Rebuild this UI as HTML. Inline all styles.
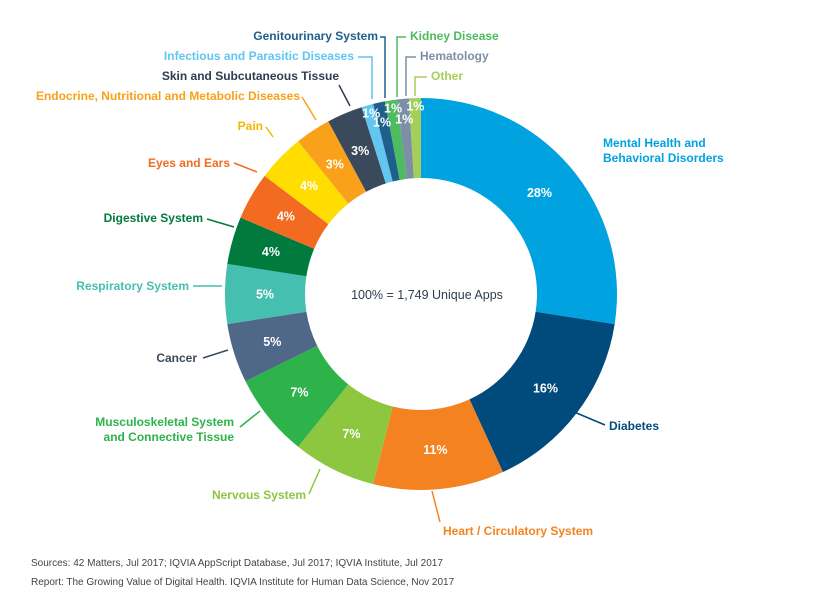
<!DOCTYPE html>
<html><head><meta charset="utf-8">
<style>
body{margin:0;background:#fff;font-family:"Liberation Sans",sans-serif;}
svg text{font-family:"Liberation Sans",sans-serif;}
</style></head>
<body>
<svg id="chart" width="820" height="607" viewBox="0 0 820 607" xmlns="http://www.w3.org/2000/svg">
<g id="slices"></g>
<g id="pcts"></g>
<g id="labels"></g>
<text x="427" y="299" text-anchor="middle" font-size="12.5" fill="#2e3d4f">100% = 1,749 Unique Apps</text>
<text x="31" y="566" font-size="10" fill="#444">Sources: 42 Matters, Jul 2017; IQVIA AppScript Database, Jul 2017; IQVIA Institute, Jul 2017</text>
<text x="31" y="585" font-size="10" fill="#444">Report: The Growing Value of Digital Health. IQVIA Institute for Human Data Science, Nov 2017</text>
</svg>
<script>
const categories=["Mental Health and Behavioral Disorders","Diabetes","Heart / Circulatory System","Nervous System","Musculoskeletal System and Connective Tissue","Cancer","Respiratory System","Digestive System","Eyes and Ears","Pain","Endocrine, Nutritional and Metabolic Diseases","Skin and Subcutaneous Tissue","Infectious and Parasitic Diseases","Genitourinary System","Kidney Disease","Hematology","Other"];
const values=[28,16,11,7,7,5,5,4,4,4,3,3,1,1,1,1,1];
const pctLabels=["28%","16%","11%","7%","7%","5%","5%","4%","4%","4%","3%","3%","1%","1%","1%","1%","1%"];
const colors=["#00a3e0","#004a7c","#f58220","#8dc63f","#2db34a","#4f6888","#45bfb0","#007a3d","#f26b21","#ffdd00","#f9a11b","#3a4a5c","#62c6f1","#1f5f8b","#4dbb5f","#7d8fa6","#a6cf5a"];
const cx=421,cy=294,R=196,r=116;
const total=values.reduce((a,b)=>a+b,0);
const NS="http://www.w3.org/2000/svg";
function pt(a,rad){return [cx+rad*Math.sin(a),cy-rad*Math.cos(a)];}
const gS=document.getElementById('slices'),gP=document.getElementById('pcts'),gL=document.getElementById('labels');
let acc=0;
values.forEach((v,i)=>{
  const a0=acc/total*2*Math.PI; acc+=v; const a1=acc/total*2*Math.PI;
  const [x0,y0]=pt(a0,R),[x1,y1]=pt(a1,R),[x2,y2]=pt(a1,r),[x3,y3]=pt(a0,r);
  const lg=(a1-a0)>Math.PI?1:0;
  const p=document.createElementNS(NS,'path');
  p.setAttribute('d',`M${x0},${y0}A${R},${R} 0 ${lg} 1 ${x1},${y1}L${x2},${y2}A${r},${r} 0 ${lg} 0 ${x3},${y3}Z`);
  p.setAttribute('fill',colors[i]);
  
  
  gS.appendChild(p);
  const am=(a0+a1)/2;
  let rr=(R+r)/2, dx=0, dy=0;
  if(i>=12){rr=R-14; dy=(i%2===0)?-6:6;}
  const [tx,ty]=pt(am,rr);
  const t=document.createElementNS(NS,'text');
  t.setAttribute('x',tx+dx);t.setAttribute('y',ty+dy+4.5);
  t.setAttribute('text-anchor','middle');t.setAttribute('font-size','12.5');t.setAttribute('font-weight','bold');t.setAttribute('fill','#fff');
  
  
  t.textContent=pctLabels[i];
  gP.appendChild(t);
});
const lab=[
 [["Mental Health and","Behavioral Disorders"],603,147,"start","#00a3e0",null],
 [["Diabetes"],609,430,"start","#004a7c","M567,409L605,425"],
 [["Heart / Circulatory System"],443,535,"start","#f58220","M432,491L440,522"],
 [["Nervous System"],306,499,"end","#8dc63f","M320,469L309,494"],
 [["Musculoskeletal System","and Connective Tissue"],234,426,"end","#2db34a","M260,411L240,427"],
 [["Cancer"],197,362,"end","#3a4a5c","M228,350L203,358"],
 [["Respiratory System"],189,290,"end","#45bfb0","M222,286L193,286"],
 [["Digestive System"],203,222,"end","#007a3d","M234,227L207,219"],
 [["Eyes and Ears"],230,167,"end","#f26b21","M257,172L234,163"],
 [["Pain"],263,130,"end","#f2b800","M273,137L266,127"],
 [["Endocrine, Nutritional and Metabolic Diseases"],300,100,"end","#f9a11b","M316,120L302,97"],
 [["Skin and Subcutaneous Tissue"],339,80,"end","#2e3d4f","M350,106L339,85"],
 [["Infectious and Parasitic Diseases"],354,60,"end","#62c6f1","M372,99L372,57L358,57"],
 [["Genitourinary System"],378,40,"end","#1f5f8b","M385,98L385,37L380,37"],
 [["Kidney Disease"],410,40,"start","#4dbb5f","M397,97L397,37L406,37"],
 [["Hematology"],420,60,"start","#7d8fa6","M406,96L406,57L416,57"],
 [["Other"],431,80,"start","#a6cf5a","M415,96L415,77L427,77"]
];
lab.forEach((l,i)=>{
  if(l[5]){const p=document.createElementNS(NS,'path');p.setAttribute('d',l[5]);p.setAttribute('stroke',l[4]);p.setAttribute('fill','none');p.setAttribute('stroke-width','1.5');
  
  
  gL.appendChild(p);}
  l[0].forEach((s,j)=>{const t=document.createElementNS(NS,'text');
  t.setAttribute('x',l[1]);t.setAttribute('y',l[2]+j*15);t.setAttribute('text-anchor',l[3]);t.setAttribute('font-size','12');t.setAttribute('font-weight','bold');t.setAttribute('fill',l[4]);
  
  
  t.textContent=s;gL.appendChild(t);});
});
</script>
</body></html>
